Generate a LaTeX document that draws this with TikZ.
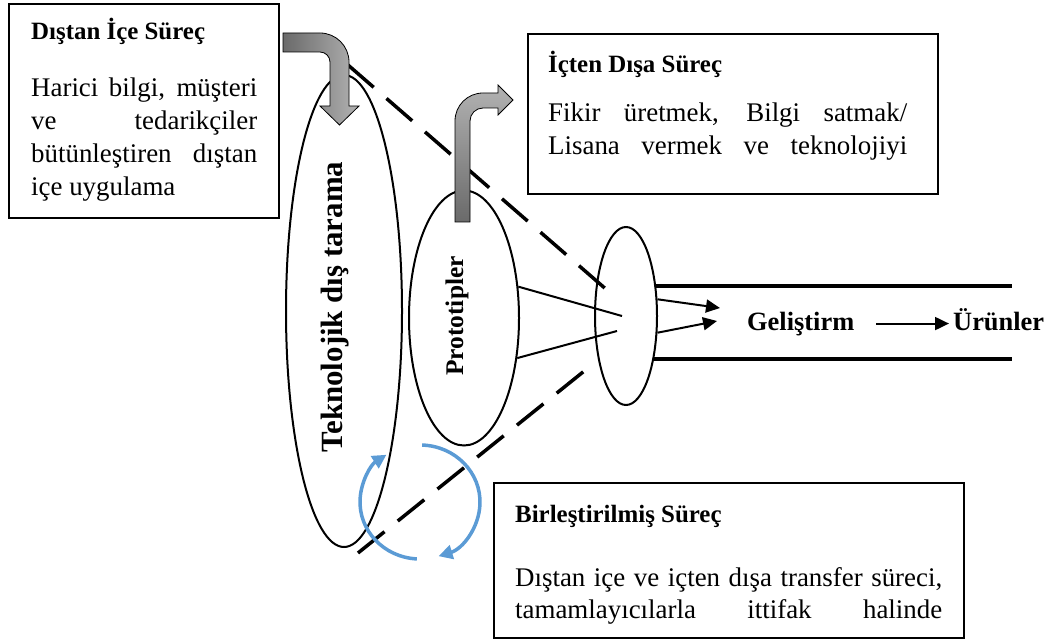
\documentclass[tikz,border=0pt]{standalone}
\usepackage{fontspec}
\setmainfont{Liberation Serif}
\usepackage{tikz}
\usetikzlibrary{shapes}
\usetikzlibrary{calc}
\usetikzlibrary{arrows.meta}
\usetikzlibrary{positioning}

\definecolor{cycleblue}{HTML}{5B9BD5}
\definecolor{arrowdark}{HTML}{6A6A6A}
\definecolor{arrowlight}{HTML}{B2B2B2}

\tikzset{
	infobox/.style={draw, line width=2bp, fill=white, rectangle, inner sep=0pt, anchor=north west},
	boxtitle/.style={font=\fontsize{25}{30}\selectfont\bfseries, inner sep=0pt, anchor=base west},
	boxline/.style={font=\fontsize{27}{32}\selectfont, inner sep=0pt, anchor=base west},
	stage/.style={draw, ellipse, line width=2bp, inner sep=0pt},
	flowtext/.style={font=\fontsize{26.5}{30}\selectfont\bfseries, inner sep=0pt, anchor=base west},
	flowarrow/.style={line width=2bp, -{Triangle[length=14bp,width=13bp]}},
	cyclearrow/.style={line width=3.5bp, draw=cycleblue, -{Triangle[length=14bp,width=14bp]}},
	funnel/.style={line width=3.5bp, dash pattern=on 34bp off 17bp},
	bentarrow/.style={draw=black, line width=0.8bp}
}

\begin{document}
\begin{tikzpicture}[x=1bp, y=1bp]
	\useasboundingbox (0,0) rectangle (1055,-643);

	% Stages
	\node[stage, minimum width=116bp, minimum height=472bp] (scan) at (344,-311) {};
	\node[stage, minimum width=110bp, minimum height=255bp] (proto) at (464,-318) {};
	\node[stage, minimum width=62bp, minimum height=178bp] (focus) at (626,-316) {};

	\node[font=\fontsize{31}{36}\selectfont\bfseries, rotate=90, anchor=base, inner sep=0pt] (scanlabel) at (342,-307) {Teknolojik dış tarama};
	\node[font=\fontsize{25.5}{30}\selectfont\bfseries, rotate=90, anchor=base, inner sep=0pt] (protolabel) at (463,-316) {Prototipler};

	% Funnel
	\coordinate (funneltop) at (348,-65);
	\coordinate (focusup) at (615,-297);
	\coordinate (funnelbottom) at (358,-553);
	\coordinate (focusdown) at (588,-368);
	\draw[funnel] (funneltop) -- (focusup);
	\draw[funnel] (funnelbottom) -- (focusdown);

	\coordinate (mergeA) at (622,-316);
	\coordinate (mergeB) at (617,-331);
	\draw[line width=2bp] (proto.30) -- (mergeA);
	\draw[line width=2bp] (proto.-37) -- (mergeB);

	% Pipeline
	\coordinate (pipeend) at (1012,0);
	\draw[line width=4bp] (focus.45) -- (focus.45 -| pipeend);
	\draw[line width=4bp] (focus.-57) -- (focus.-57 -| pipeend);

	\coordinate (outA) at (720,-308);
	\coordinate (outB) at (717,-321);
	\draw[flowarrow] (focus.28) -- (outA);
	\draw[flowarrow] (focus.-28) -- (outB);

	\node[flowtext] (develop) at (747,-330) {Geliştirm};
	\node[flowtext] (products) at (953,-330) {Ürünler};
	\draw[flowarrow, shorten <=22bp, shorten >=4bp] (develop.east) -- (develop.east -| products.west);

	% Boxes
	\node[infobox, minimum width=270bp, minimum height=214bp] (outinbox) at (8,-3) {};
	\node[boxtitle] (outintitle) at (31,-40) {Dıştan İçe Süreç};
	\node[boxline] (outinA) at (31,-97) {\makebox[226bp][s]{Harici bilgi, müşteri}};
	\node[boxline] (outinB) at (31,-130) {\makebox[226bp][s]{ve tedarikçiler}};
	\node[boxline] (outinC) at (31,-163) {\makebox[226bp][s]{bütünleştiren dıştan}};
	\node[boxline] (outinD) at (31,-196) {içe uygulama};

	\node[infobox, minimum width=410bp, minimum height=160bp] (inoutbox) at (527,-33) {};
	\node[boxtitle] (inouttitle) at (548,-73) {İçten Dışa Süreç};
	\node[boxline] (inoutA) at (548,-122) {\makebox[359bp][s]{Fikir üretmek, Bilgi satmak/}};
	\node[boxline] (inoutB) at (548,-155) {\makebox[359bp][s]{Lisana vermek ve teknolojiyi}};

	\node[infobox, minimum width=470bp, minimum height=155bp] (coupledbox) at (493,-482) {};
	\node[boxtitle] (coupledtitle) at (515,-522) {Birleştirilmiş Süreç};
	\node[boxline] (coupledA) at (515,-586) {\makebox[427bp][s]{Dıştan içe ve içten dışa transfer süreci,}};
	\node[boxline] (coupledB) at (515,-618) {\makebox[427bp][s]{tamamlayıcılarla ittifak halinde}};

	% Bent arrows
	\path[bentarrow, left color=arrowdark, right color=arrowlight]
		(283,-33) -- (320,-33) .. controls (336,-33) and (349,-46) .. (349,-62)
		-- (349,-106) -- (359,-106) -- (339.5,-125) -- (320,-106) -- (330,-106)
		-- (330,-62) .. controls (330,-56.5) and (325.5,-52) .. (320,-52) -- (283,-52) -- cycle;
	\path[bentarrow, bottom color=arrowdark, top color=arrowlight]
		(455,-222) -- (455,-121) .. controls (455,-105.5) and (467.5,-93) .. (483,-93)
		-- (498,-93) -- (498,-85) -- (513,-100) -- (498,-115) -- (498,-108)
		-- (483,-108) .. controls (475.8,-108) and (470,-113.8) .. (470,-121) -- (470,-222) -- cycle;

	% Cycle
	\coordinate (cyclecentre) at (420,-502);
	\draw[cyclearrow] ($(cyclecentre)+(88:60 and 57)$) arc[start angle=88, end angle=-72, x radius=60, y radius=57];
	\draw[cyclearrow] ($(cyclecentre)+(-93:60 and 57)$) arc[start angle=-93, end angle=-236, x radius=60, y radius=57];
\end{tikzpicture}
\end{document}
